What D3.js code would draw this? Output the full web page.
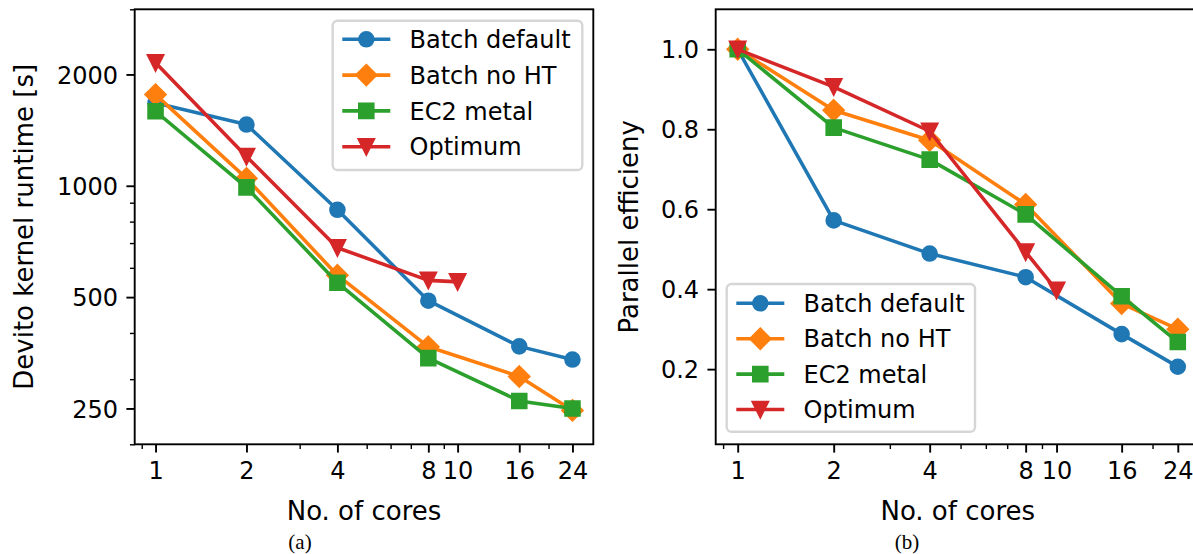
<!DOCTYPE html>
<html>
<head>
<meta charset="utf-8">
<script src="https://cdn.jsdelivr.net/npm/d3@7"></script>
<style>
  html, body { margin: 0; padding: 0; background: #fff; }
  svg { display: block; }
  text { fill: #000; }
</style>
</head>
<body>
<svg id="chart" width="1193" height="554"></svg>
<script>
// ---------------- data ----------------
const cores = [1, 2, 4, 8, 16, 24];
const coresOptimum = [1, 2, 4, 8, 10];
const seriesNames = ["Batch default", "Batch no HT", "EC2 metal", "Optimum"];
const seriesColors = ["#1f77b4", "#ff7f0e", "#2ca02c", "#d62728"];
const seriesMarkers = ["circle", "diamond", "square", "triangleDown"];

const runtimeBatchDefault = [1675, 1464, 861, 489, 368, 339];
const runtimeBatchNoHT   = [1764, 1047, 573, 367, 305, 247];
const runtimeEC2Metal    = [1590, 990, 547, 342, 262, 250];
const runtimeOptimum     = [2150, 1200, 680, 555, 550];

const effBatchDefault = [1.0, 0.572, 0.489, 0.43, 0.2875, 0.206];
const effBatchNoHT    = [1.0, 0.8475, 0.7725, 0.612, 0.364, 0.30];
const effEC2Metal     = [1.0, 0.804, 0.724, 0.587, 0.3825, 0.268];
const effOptimum      = [1.0, 0.906, 0.795, 0.493, 0.3975];

const xMajorTicks = [1, 2, 4, 8, 10, 16, 24];
const xMinorTicks = [0.9, 3, 5, 6, 7, 9, 20];
const yLeftMajorTicks = [250, 500, 1000, 2000];
const yLeftMinorTicks = [200, 300, 400, 600, 700, 800, 900, 3000];
const yRightTicks = [0.2, 0.4, 0.6, 0.8, 1.0];

// ---------------- helpers ----------------
const PT = 2.37;             // px per point
const FS = 24;               // tick / legend font size px
const LFS = 26;              // axis label font size px
const SANS = '"DejaVu Sans", sans-serif';
const SERIF = '"Liberation Serif", "DejaVu Serif", serif';
const svg = d3.select("#chart");

function markerPath(type) {
  const p = d3.path();
  if (type === "circle") {
    const r = 7.1; p.arc(0, 0, r, 0, 2 * Math.PI);
  } else if (type === "square") {
    const h = 7.1; p.rect(-h, -h, 2 * h, 2 * h);
  } else if (type === "diamond") {
    const h = 10.0; p.moveTo(0, -h); p.lineTo(h, 0); p.lineTo(0, h); p.lineTo(-h, 0); p.closePath();
  } else {
    const h = 7.6; p.moveTo(-h, -h); p.lineTo(h, -h); p.lineTo(0, h); p.closePath();
  }
  return p.toString();
}

function logExtent(lo, hi, m) {
  const a = Math.log2(lo), b = Math.log2(hi), d = (b - a) * m;
  return [Math.pow(2, a - d), Math.pow(2, b + d)];
}

function drawPanel(cfg) {
  const { left, right, top, bottom } = cfg.box;
  const g = svg.append("g");
  const defs = svg.append("defs");
  const clipId = "clip" + cfg.id;
  defs.append("clipPath").attr("id", clipId)
    .append("rect").attr("x", left - 12).attr("y", top - 12)
    .attr("width", right - left + 24).attr("height", bottom - top + 24);

  const x = d3.scaleLog().domain(logExtent(1, 24, 0.05)).range([left, right]);
  const y = cfg.yScale.range([bottom, top]);

  // series
  const line = d3.line().x(d => x(d[0])).y(d => y(d[1]));
  cfg.series.forEach((s, i) => {
    const pts = s.xs.map((c, k) => [c, s.ys[k]]);
    const sg = g.append("g").attr("clip-path", `url(#${clipId})`);
    sg.append("path").attr("d", line(pts)).attr("fill", "none")
      .attr("stroke", seriesColors[i]).attr("stroke-width", 1.5 * PT)
      .attr("stroke-linejoin", "round").attr("stroke-linecap", "square");
    sg.selectAll("path.m").data(pts).enter().append("path").attr("class", "m")
      .attr("d", markerPath(seriesMarkers[i]))
      .attr("transform", d => `translate(${x(d[0])},${y(d[1])})`)
      .attr("fill", seriesColors[i]).attr("stroke", seriesColors[i])
      .attr("stroke-width", 1 * PT).attr("stroke-linejoin", "miter");
  });

  // x axis
  const xAxis = d3.axisBottom(x).tickValues(xMajorTicks).tickFormat(d3.format("d"))
    .tickSize(3.5 * PT).tickPadding(3.5 * PT);
  const xg = g.append("g").attr("transform", `translate(0,${bottom})`).call(xAxis);
  xg.select(".domain").remove();
  xg.selectAll(".tick line").attr("stroke", "#000").attr("stroke-width", 0.8 * PT);
  xg.selectAll(".tick text").attr("font-size", FS).style("font-family", SANS).attr("dy", "0.74em");
  const xmg = g.append("g").attr("transform", `translate(0,${bottom})`)
    .call(d3.axisBottom(x).tickValues(xMinorTicks).tickFormat("").tickSize(2 * PT));
  xmg.select(".domain").remove();
  xmg.selectAll(".tick line").attr("stroke", "#000").attr("stroke-width", 0.6 * PT);

  // y axis
  const yAxis = d3.axisLeft(y).tickValues(cfg.yTicks).tickFormat(cfg.yFormat)
    .tickSize(3.5 * PT).tickPadding(3.5 * PT);
  const yg = g.append("g").attr("transform", `translate(${left},0)`).call(yAxis);
  yg.select(".domain").remove();
  yg.selectAll(".tick line").attr("stroke", "#000").attr("stroke-width", 0.8 * PT);
  yg.selectAll(".tick text").attr("font-size", FS).style("font-family", SANS).attr("dy", "0.36em");
  if (cfg.yMinor) {
    const ymg = g.append("g").attr("transform", `translate(${left},0)`)
      .call(d3.axisLeft(y).tickValues(cfg.yMinor).tickFormat("").tickSize(2 * PT));
    ymg.select(".domain").remove();
    ymg.selectAll(".tick line").attr("stroke", "#000").attr("stroke-width", 0.6 * PT);
  }

  // spines
  g.append("rect").attr("x", left).attr("y", top).attr("width", right - left).attr("height", bottom - top)
    .attr("fill", "none").attr("stroke", "#000").attr("stroke-width", 0.8 * PT);

  // labels
  g.append("text").attr("x", (left + right) / 2).attr("y", cfg.xLabelY)
    .attr("text-anchor", "middle").attr("font-size", LFS).style("font-family", SANS).text("No. of cores");
  g.append("text").attr("transform", `translate(${cfg.yLabelX},${(top + bottom) / 2}) rotate(-90)`)
    .attr("text-anchor", "middle").attr("font-size", LFS).style("font-family", SANS).text(cfg.yLabel);
  g.append("text").attr("x", cfg.captionX).attr("y", 549).attr("text-anchor", "middle")
    .style("font-family", SERIF).attr("font-size", 21).text(cfg.caption);

  // legend
  const L = cfg.legend;
  const lg = g.append("g");
  lg.append("rect").attr("x", L.x).attr("y", L.y).attr("width", L.w).attr("height", L.h)
    .attr("rx", 4.8).attr("ry", 4.8)
    .attr("fill", "#fff").attr("fill-opacity", 0.8)
    .attr("stroke", "#cccccc").attr("stroke-opacity", 0.8).attr("stroke-width", 1 * PT);
  seriesNames.forEach((name, i) => {
    const cy = L.y + L.firstRow + i * L.rowStep;
    const hx0 = L.x + 9.6, hx1 = hx0 + 2 * FS;
    lg.append("line").attr("x1", hx0).attr("x2", hx1).attr("y1", cy).attr("y2", cy)
      .attr("stroke", seriesColors[i]).attr("stroke-width", 1.5 * PT);
    lg.append("path").attr("d", markerPath(seriesMarkers[i]))
      .attr("transform", `translate(${(hx0 + hx1) / 2},${cy})`)
      .attr("fill", seriesColors[i]).attr("stroke", seriesColors[i]).attr("stroke-width", 1 * PT);
    lg.append("text").attr("x", hx1 + 0.8 * FS).attr("y", cy).attr("dy", "0.36em")
      .attr("font-size", FS).style("font-family", SANS).text(name);
  });
}

// ---------------- panel (a) ----------------
drawPanel({
  id: "a",
  box: { left: 134.7, right: 593.3, top: 9.3, bottom: 444.3 },
  yScale: d3.scaleLog().domain([200, 3000]),
  yTicks: yLeftMajorTicks, yMinor: yLeftMinorTicks, yFormat: d3.format("d"),
  series: [
    { xs: cores, ys: runtimeBatchDefault },
    { xs: cores, ys: runtimeBatchNoHT },
    { xs: cores, ys: runtimeEC2Metal },
    { xs: coresOptimum, ys: runtimeOptimum }
  ],
  xLabelY: 520, yLabelX: 33, yLabel: "Devito kernel runtime [s]",
  caption: "(a)", captionX: 300,
  legend: { x: 332.7, y: 20.7, w: 249.6, h: 149.3, firstRow: 18.6, rowStep: 35.8 }
});

// ---------------- panel (b) ----------------
drawPanel({
  id: "b",
  box: { left: 715.7, right: 1199.8, top: 9.3, bottom: 444.3 },
  yScale: d3.scaleLinear().domain([0.012, 1.1]),
  yTicks: yRightTicks, yMinor: null, yFormat: d3.format(".1f"),
  series: [
    { xs: cores, ys: effBatchDefault },
    { xs: cores, ys: effBatchNoHT },
    { xs: cores, ys: effEC2Metal },
    { xs: coresOptimum, ys: effOptimum }
  ],
  xLabelY: 520, yLabelX: 638, yLabel: "Parallel efficieny",
  caption: "(b)", captionX: 907,
  legend: { x: 726.7, y: 284, w: 248.3, h: 147.7, firstRow: 19.3, rowStep: 35.4 }
});
</script>
</body>
</html>
